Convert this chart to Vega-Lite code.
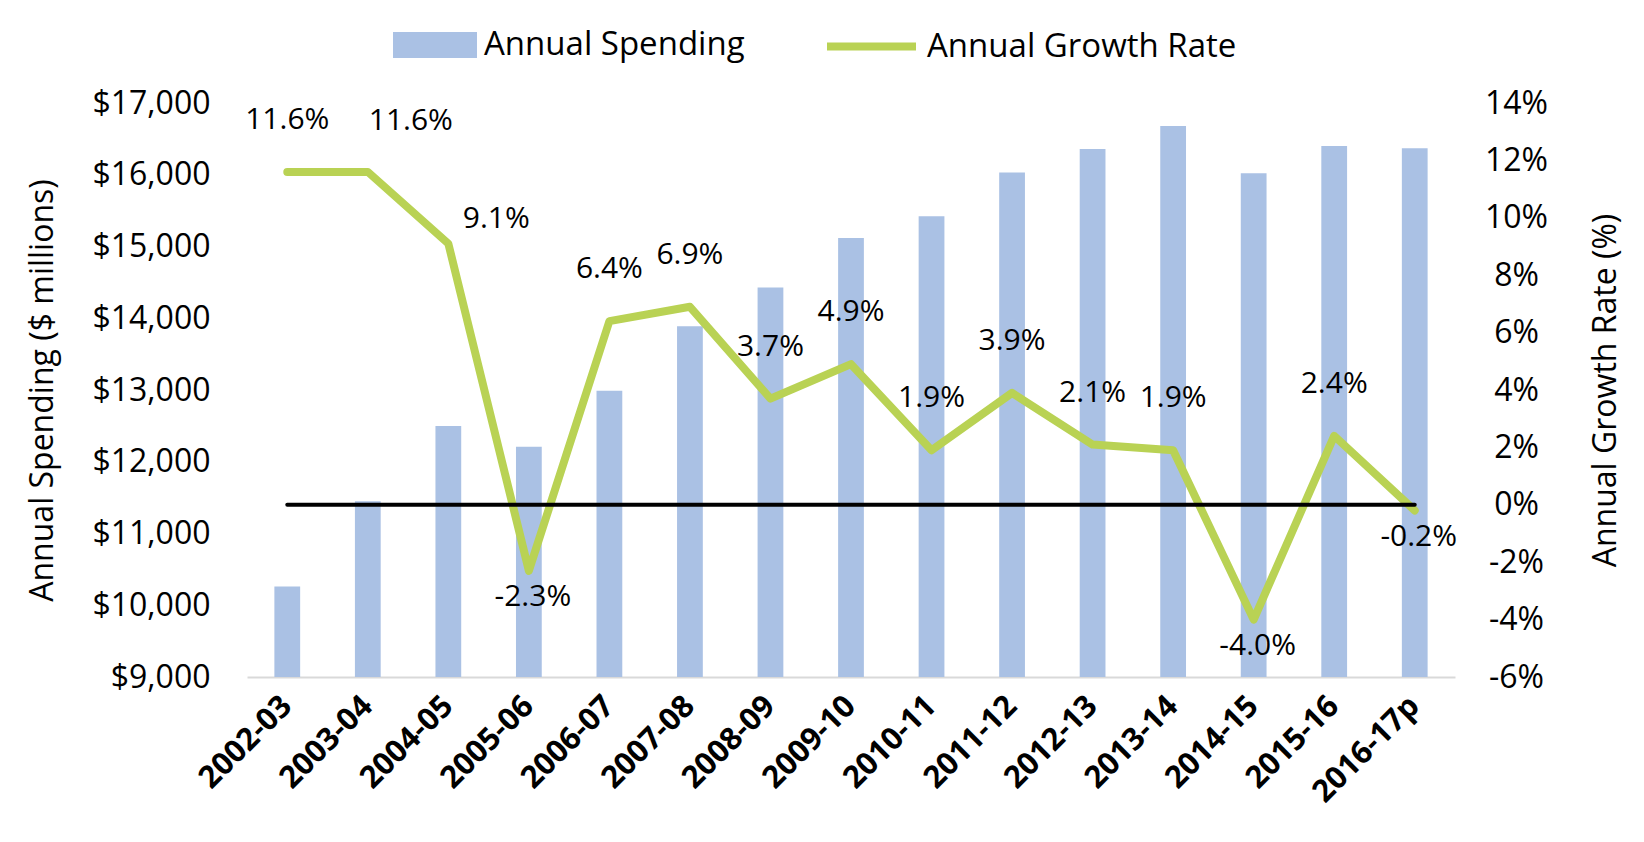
{
  "$schema": "https://vega.github.io/schema/vega-lite/v6.json",
  "width": 1208,
  "height": 574,
  "autosize": {"type": "none"},
  "padding": {"left": 247, "top": 103, "right": 189, "bottom": 165},
  "background": "white",
  "config": {
    "font": "Open Sans",
    "view": {"stroke": null},
    "locale": {
      "number": {"decimal": ".", "thousands": ",", "grouping": [3], "currency": ["$", ""], "minus": "-"}
    },
    "axis": {
      "grid": false,
      "ticks": false,
      "labelFontSize": 32,
      "labelColor": "black",
      "titleFontSize": 32,
      "titleFontWeight": "normal",
      "titleColor": "black"
    },
    "legend": {
      "labelFontSize": 33,
      "labelColor": "black",
      "labelLimit": 500,
      "padding": 0,
      "labelOffset": 7
    }
  },
  "data": {
    "values": [
      {"year": "2002-03", "spending": 10260, "growth": 0.116},
      {"year": "2003-04", "spending": 11450, "growth": 0.116},
      {"year": "2004-05", "spending": 12500, "growth": 0.091},
      {"year": "2005-06", "spending": 12210, "growth": -0.023},
      {"year": "2006-07", "spending": 12990, "growth": 0.064},
      {"year": "2007-08", "spending": 13890, "growth": 0.069},
      {"year": "2008-09", "spending": 14430, "growth": 0.037},
      {"year": "2009-10", "spending": 15120, "growth": 0.049},
      {"year": "2010-11", "spending": 15420, "growth": 0.019},
      {"year": "2011-12", "spending": 16030, "growth": 0.039},
      {"year": "2012-13", "spending": 16360, "growth": 0.021},
      {"year": "2013-14", "spending": 16680, "growth": 0.019},
      {"year": "2014-15", "spending": 16020, "growth": -0.040},
      {"year": "2015-16", "spending": 16400, "growth": 0.024},
      {"year": "2016-17p", "spending": 16370, "growth": -0.002}
    ]
  },
  "encoding": {
    "x": {
      "field": "year",
      "type": "nominal",
      "sort": null,
      "title": null,
      "scale": {"paddingInner": 0.68, "paddingOuter": 0.34},
      "axis": {
        "labelAngle": -45,
        "labelAlign": "right",
        "labelBaseline": "middle",
        "labelFontWeight": "bold",
        "labelFontSize": 31,
        "labelPadding": 24,
        "domainColor": "#D9D9D9",
        "domainWidth": 2
      }
    }
  },
  "layer": [
    {
      "mark": {"type": "bar"},
      "encoding": {
        "y": {
          "field": "spending",
          "type": "quantitative",
          "title": "Annual Spending ($ millions)",
          "scale": {"domain": [9000, 17000], "nice": false, "zero": false},
          "axis": {
            "orient": "left",
            "values": [9000, 10000, 11000, 12000, 13000, 14000, 15000, 16000, 17000],
            "format": "$,.0f",
            "domain": false,
            "labelPadding": 37,
            "titleAngle": -90,
            "titleAlign": "center",
            "titleBaseline": "middle",
            "titleX": -205,
            "titleY": 287
          }
        },
        "y2": {"datum": 9000},
        "color": {
          "datum": "Annual Spending",
          "scale": {"range": ["#AAC1E4"]},
          "legend": {
            "title": null,
            "orient": "none",
            "legendX": 146,
            "legendY": -100,
            "symbolType": "M-1,-0.31H1V0.31H-1Z",
            "symbolSize": 7056,
            "symbolStrokeWidth": 0
          }
        }
      }
    },
    {
      "layer": [
        {
          "mark": {"type": "line", "strokeWidth": 8, "strokeCap": "round", "strokeJoin": "round"},
          "encoding": {
            "y": {
              "field": "growth",
              "type": "quantitative",
              "title": "Annual Growth Rate (%)",
              "scale": {"domain": [-0.06, 0.14], "nice": false},
              "axis": {
                "orient": "right",
                "values": [-0.06, -0.04, -0.02, 0, 0.02, 0.04, 0.06, 0.08, 0.1, 0.12, 0.14],
                "format": ".0%",
                "domain": false,
                "labelAlign": "center",
                "labelPadding": 61,
                "titleAngle": -90,
                "titleAlign": "center",
                "titleBaseline": "middle",
                "titleX": 150,
                "titleY": 287
              }
            },
            "stroke": {
              "datum": "Annual Growth Rate",
              "scale": {"range": ["#B9D254"]},
              "legend": {
                "title": null,
                "orient": "none",
                "legendX": 576,
                "legendY": -105,
                "symbolType": "stroke",
                "symbolSize": 7921,
                "symbolStrokeWidth": 8
              }
            }
          }
        },
        {
          "mark": {"type": "line", "color": "black", "strokeWidth": 4, "strokeCap": "round"},
          "encoding": {
            "y": {"datum": 0}
          }
        },
        {
          "transform": [
            {"filter": "datum.growth >= 0 && datum.year != '2003-04' && datum.year != '2004-05'"}
          ],
          "mark": {"type": "text", "fontSize": 30, "color": "black", "dy": -52, "baseline": "middle"},
          "encoding": {
            "y": {"field": "growth", "type": "quantitative"},
            "text": {"field": "growth", "type": "quantitative", "format": ".1%"}
          }
        },
        {
          "transform": [{"filter": "datum.growth < 0"}],
          "mark": {"type": "text", "fontSize": 30, "color": "black", "dy": 26, "dx": 4, "baseline": "middle"},
          "encoding": {
            "y": {"field": "growth", "type": "quantitative"},
            "text": {"field": "growth", "type": "quantitative", "format": ".1%"}
          }
        },
        {
          "transform": [{"filter": "datum.year == '2003-04'"}],
          "mark": {"type": "text", "fontSize": 30, "color": "black", "dy": -51, "dx": 43, "baseline": "middle"},
          "encoding": {
            "y": {"field": "growth", "type": "quantitative"},
            "text": {"field": "growth", "type": "quantitative", "format": ".1%"}
          }
        },
        {
          "transform": [{"filter": "datum.year == '2004-05'"}],
          "mark": {"type": "text", "fontSize": 30, "color": "black", "dy": -25, "dx": 48, "baseline": "middle"},
          "encoding": {
            "y": {"field": "growth", "type": "quantitative"},
            "text": {"field": "growth", "type": "quantitative", "format": ".1%"}
          }
        }
      ]
    }
  ],
  "resolve": {"scale": {"y": "independent"}}
}
